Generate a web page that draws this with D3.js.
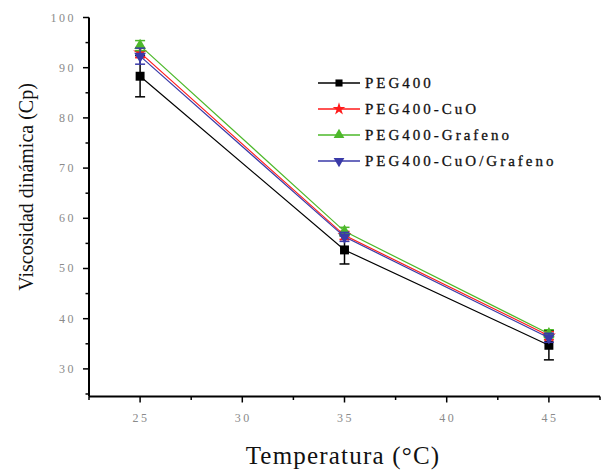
<!DOCTYPE html>
<html>
<head>
<meta charset="utf-8">
<script src="https://cdn.jsdelivr.net/npm/d3@7"></script>
<style>
  body { margin: 0; background: #fff; }
</style>
</head>
<body>
<script>
var temps = [25, 35, 45];
var seriesNames = ['PEG400', 'PEG400-CuO', 'PEG400-Grafeno', 'PEG400-CuO/Grafeno'];
var peg = [88.3, 53.7, 34.7];
var pegErr = [4.1, 2.8, 2.9];
var pegCuo = [93.0, 56.6, 36.6];
var pegCuoErr = [1.0, 0.8, 0.8];
var pegGraf = [94.4, 57.4, 37.0];
var pegGrafErr = [1.0, 0.8, 0.8];
var pegCuoGraf = [92.3, 56.3, 36.2];
var pegCuoGrafErr = [1.6, 0.9, 0.9];
var xTicks = [25, 30, 35, 40, 45];
var yTicks = [30, 40, 50, 60, 70, 80, 90, 100];
var colors = ['#000000', '#ff1a1a', '#4db82a', '#3a3aa8'];
var symbols = [d3.symbolSquare, d3.symbolStar, d3.symbolTriangle, d3.symbolTriangle];

var series = [
  { name: seriesNames[0], vals: peg, err: pegErr },
  { name: seriesNames[1], vals: pegCuo, err: pegCuoErr },
  { name: seriesNames[2], vals: pegGraf, err: pegGrafErr },
  { name: seriesNames[3], vals: pegCuoGraf, err: pegCuoGrafErr }
];

var W = 601, H = 470;
var svg = d3.select('body').append('svg').attr('width', W).attr('height', H);
var serif = "'Times New Roman', Tinos, Times, serif";

var x = d3.scaleLinear().domain([22.5, 47.5]).range([89, 600]);
var y = d3.scaleLinear().domain([24.5, 100]).range([396.5, 17.5]);

// axes
var xAxis = svg.append('g').attr('transform', 'translate(0,396.5)');
xAxis.append('line').attr('x1', x(22.5)).attr('x2', x(47.5)).attr('stroke', '#000').attr('stroke-width', 2);
xAxis.selectAll('.maj').data(xTicks).enter().append('line')
  .attr('x1', function (d) { return x(d); }).attr('x2', function (d) { return x(d); })
  .attr('y1', 0).attr('y2', 6).attr('stroke', '#000').attr('stroke-width', 1.5);
xAxis.selectAll('.min').data(d3.range(22.5, 48, 5)).enter().append('line')
  .attr('x1', function (d) { return x(d); }).attr('x2', function (d) { return x(d); })
  .attr('y1', 0).attr('y2', 3.5).attr('stroke', '#000').attr('stroke-width', 1.5);
xAxis.selectAll('text').data(xTicks).enter().append('text')
  .attr('x', function (d) { return x(d) + 1; }).attr('y', 25)
  .attr('text-anchor', 'middle').attr('font-size', 12).attr('letter-spacing', 2.5)
  .style('font-family', serif).attr('fill', '#8a8a8a').text(function (d) { return d; });

var yAxis = svg.append('g').attr('transform', 'translate(89,0)');
yAxis.append('line').attr('y1', y(24.5)).attr('y2', y(100)).attr('stroke', '#000').attr('stroke-width', 2);
yAxis.selectAll('.maj').data(yTicks).enter().append('line')
  .attr('y1', function (d) { return y(d); }).attr('y2', function (d) { return y(d); })
  .attr('x1', 0).attr('x2', -6).attr('stroke', '#000').attr('stroke-width', 1.5);
yAxis.selectAll('.min').data(d3.range(25, 100, 10)).enter().append('line')
  .attr('y1', function (d) { return y(d); }).attr('y2', function (d) { return y(d); })
  .attr('x1', 0).attr('x2', -3.5).attr('stroke', '#000').attr('stroke-width', 1.5);
yAxis.selectAll('text').data(yTicks).enter().append('text')
  .attr('x', -13).attr('y', function (d) { return y(d) + 4; })
  .attr('text-anchor', 'end').attr('font-size', 12).attr('letter-spacing', 2.5)
  .style('font-family', serif).attr('fill', '#8a8a8a').text(function (d) { return d; });

// titles
svg.append('text').attr('x', 343).attr('y', 464).attr('text-anchor', 'middle')
  .style('font-family', serif).attr('font-size', 25).attr('letter-spacing', 1.2)
  .attr('fill', '#111').text('Temperatura (°C)');
svg.append('text').attr('transform', 'translate(33,187) rotate(-90)').attr('text-anchor', 'middle')
  .style('font-family', serif).attr('font-size', 20)
  .attr('fill', '#111').text('Viscosidad dinámica (Cp)');

// lines, error bars, markers
var line = d3.line().x(function (d, i) { return x(temps[i]); }).y(function (d) { return y(d); });

series.forEach(function (s, k) {
  var g = svg.append('g');
  g.append('path').datum(s.vals).attr('d', line).attr('fill', 'none')
    .attr('stroke', colors[k]).attr('stroke-width', 1.2);
  s.vals.forEach(function (v, i) {
    var cx = x(temps[i]);
    g.append('line').attr('x1', cx).attr('x2', cx).attr('y1', y(v - s.err[i])).attr('y2', y(v + s.err[i]))
      .attr('stroke', colors[k]).attr('stroke-width', 1.5);
    [v - s.err[i], v + s.err[i]].forEach(function (e) {
      g.append('line').attr('x1', cx - 5).attr('x2', cx + 5).attr('y1', y(e)).attr('y2', y(e))
        .attr('stroke', colors[k]).attr('stroke-width', 1.5);
    });
    g.append('path').attr('d', d3.symbol().type(symbols[k]).size(k === 0 ? 80 : 60))
      .attr('transform', 'translate(' + cx + ',' + y(v) + ')' + (k === 3 ? ' rotate(180)' : ''))
      .attr('fill', colors[k]);
  });
});

// legend
var legend = svg.append('g').attr('transform', 'translate(318,83)');
seriesNames.forEach(function (n, k) {
  var row = legend.append('g').attr('transform', 'translate(0,' + (k * 26) + ')');
  row.append('line').attr('x1', 0).attr('x2', 42).attr('stroke', colors[k]).attr('stroke-width', 1.5);
  row.append('path').attr('d', d3.symbol().type(symbols[k]).size(50))
    .attr('transform', 'translate(21,0)' + (k === 3 ? ' rotate(180)' : '')).attr('fill', colors[k]);
  row.append('text').attr('x', 47).attr('y', 5).style('font-family', serif).attr('font-size', 15)
    .attr('letter-spacing', 3).attr('fill', '#111').attr('stroke', '#111').attr('stroke-width', 0.3)
    .text(n);
});
</script>
</body>
</html>
